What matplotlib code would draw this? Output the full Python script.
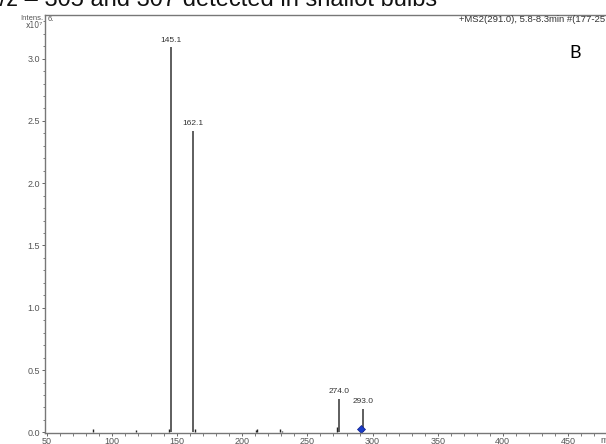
import matplotlib
matplotlib.use("Agg")
import matplotlib.pyplot as plt
from matplotlib.ticker import MultipleLocator

# spectrum sticks (m/z, intensity x10^7)
peak_mz = [145.1, 162.1, 274.0, 293.0]
peak_int = [3.09, 2.42, 0.27, 0.19]
peak_labels = ["145.1", "162.1", "274.0", "293.0"]

# small baseline noise peaks
noise_mz = [85.0, 118.0, 143.5, 164.0, 210.5, 211.5, 229.0, 230.5, 272.5]
noise_int = [0.025, 0.02, 0.03, 0.03, 0.02, 0.025, 0.03, 0.015, 0.04]

precursor_mz = 291.0

xticks = [50, 100, 150, 200, 250, 300, 350, 400, 450]
yticks = [0.0, 0.5, 1.0, 1.5, 2.0, 2.5, 3.0]

W, H = 606, 444
fig = plt.figure(figsize=(W / 100, H / 100), dpi=100)
# axes box is cropped on the right in the original picture
ax = fig.add_axes([45 / W, (H - 433) / H, (620 - 45) / W, (433 - 15) / H])

grey = "#555555"
ax.vlines(noise_mz, 0, noise_int, color="#222222", lw=1.0)
ax.vlines(peak_mz, 0, peak_int, color="#333333", lw=1.1)
for m, h, lab in zip(peak_mz, peak_int, peak_labels):
    ax.text(m, h + 0.03, lab, ha="center", va="bottom", fontsize=6,
            color="#333333", family="Liberation Sans")
ax.plot([precursor_mz], [0.03], marker="D", ms=4.5, color="#1a3cc8",
        markeredgecolor="#10208a", mew=0.5)

ax.set_xlim(48.5, 490)
ax.set_ylim(-0.005, 3.35)
ax.set_xticks(xticks)
ax.set_yticks(yticks)
ax.set_yticklabels([f"{v:.1f}" for v in yticks])
ax.xaxis.set_minor_locator(MultipleLocator(10))
ax.yaxis.set_minor_locator(MultipleLocator(0.1))
ax.tick_params(which="both", direction="out", colors="#666666",
               labelcolor=grey, labelsize=6.5, pad=1)
ax.tick_params(axis="x", pad=0.5)
ax.tick_params(which="major", length=2.5, width=0.7)
ax.tick_params(which="minor", length=1.8, width=0.6)
for lab in ax.get_xticklabels() + ax.get_yticklabels():
    lab.set_family("Liberation Sans")
for s in ax.spines.values():
    s.set_color("#777777")
    s.set_linewidth(1.0)

# texts around the frame
fig.text(-20 / W, (H - 6) / H, "m/z \u2013 305 and 307 detected in shallot bulbs",
         fontsize=17, family="Liberation Sans", color="#111111",
         ha="left", va="baseline")
fig.text(43 / W, (H - 20) / H, "Intens.", fontsize=5.5, color=grey,
         ha="right", va="baseline", family="Liberation Sans")
fig.text(43 / W, (H - 28) / H, "x10\u2077", fontsize=5.5, color=grey,
         ha="right", va="baseline", family="DejaVu Sans")
fig.text(48 / W, (H - 21) / H, "6.", fontsize=5.5, color=grey,
         ha="left", va="baseline", family="Liberation Sans")
fig.text(459 / W, (H - 22) / H, "+MS2(291.0), 5.8-8.3min #(177-25",
         fontsize=6.8, color="#333333", ha="left", va="baseline",
         family="Liberation Sans")
fig.text(575 / W, (H - 58) / H, "B", fontsize=13, color="black",
         ha="center", va="baseline", family="Lato")
fig.text(600 / W, (H - 443) / H, "m/z", fontsize=6.5, color=grey,
         ha="left", va="baseline", family="Liberation Sans")

fig.savefig("out.png", dpi=100)
